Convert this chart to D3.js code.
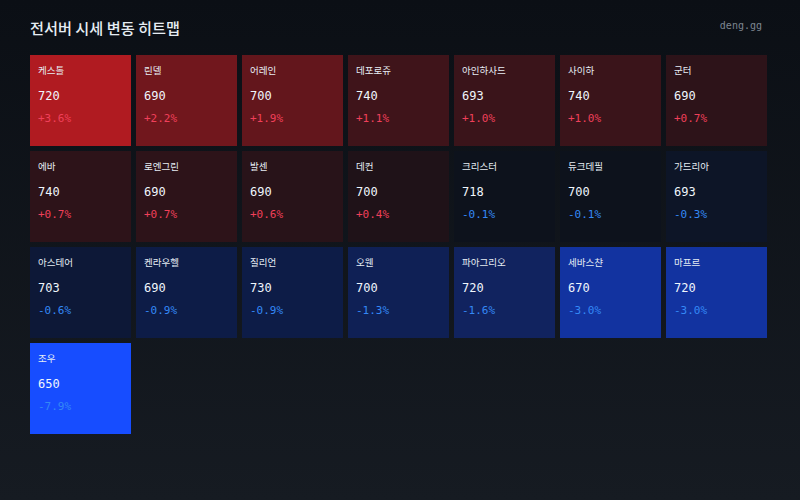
<!DOCTYPE html>
<html>
<head>
<meta charset="utf-8">
<script src="https://cdn.jsdelivr.net/npm/d3@7"></script>
<style>
  html, body { margin: 0; padding: 0; background: #0d1117; }
  svg { display: block; }
</style>
</head>
<body>
<div id="chart"></div>
<script>
const names = ["케스톨", "린델", "어레인", "데포로쥬", "아인하사드", "사이하", "군터",
  "에바", "로엔그린", "발센", "데컨", "크리스터", "듀크데필", "가드리아",
  "아스테어", "켄라우헬", "질리언", "오웬", "파아그리오", "세바스챤", "마프르",
  "조우"];
const prices = [720, 690, 700, 740, 693, 740, 690,
  740, 690, 690, 700, 718, 700, 693,
  703, 690, 730, 700, 720, 670, 720,
  650];
const changes = [3.6, 2.2, 1.9, 1.1, 1.0, 1.0, 0.7,
  0.7, 0.7, 0.6, 0.4, -0.1, -0.1, -0.3,
  -0.6, -0.9, -0.9, -1.3, -1.6, -3.0, -3.0,
  -7.9];

const width = 800;
const height = 500;
const cols = 7;
const rows = 4;
const mono = "'DejaVu Sans Mono', monospace";
const kr = "'Noto Sans CJK KR', sans-serif";

const svg = d3.select("#chart").append("svg")
  .attr("width", width)
  .attr("height", height);

const grad = svg.append("defs").append("linearGradient")
  .attr("id", "bg")
  .attr("x1", 0).attr("y1", 0).attr("x2", 0).attr("y2", 1);
grad.append("stop").attr("offset", "0%").attr("stop-color", "#0b0f15");
grad.append("stop").attr("offset", "100%").attr("stop-color", "#161b22");

svg.append("rect")
  .attr("width", width)
  .attr("height", height)
  .attr("fill", "url(#bg)");

svg.append("text")
  .attr("x", 30)
  .attr("y", 34)
  .attr("fill", "#e6edf3")
  .style("font-family", kr)
  .style("font-size", "15.2px")
  .style("font-weight", 500)
  .text("전서버 시세 변동 히트맵");

svg.append("text")
  .attr("x", 762)
  .attr("y", 29)
  .attr("text-anchor", "end")
  .attr("fill", "#7d8590")
  .style("font-family", mono)
  .style("font-size", "10px")
  .text("deng.gg");

const xScale = d3.scaleBand()
  .domain(d3.range(cols))
  .range([30, 767])
  .paddingInner(5 / 106);

const yScale = d3.scaleBand()
  .domain(d3.range(rows))
  .range([55, 434])
  .paddingInner(5 / 96);

// diverging colour scale, blue side is steeper near zero
const color = d3.scaleLinear()
  .domain([-7.9, -3, -1.6, -0.9, 0, 3.6])
  .range(["#174dff", "#1233a0", "#11235f", "#0d1c47", "#0d1117", "#b01b21"])
  .interpolate(d3.interpolateRgb);

const cells = svg.append("g")
  .selectAll("g")
  .data(names)
  .enter()
  .append("g")
  .attr("transform", (d, i) => `translate(${xScale(i % cols)},${yScale(Math.floor(i / cols))})`);

cells.append("rect")
  .attr("width", xScale.bandwidth())
  .attr("height", yScale.bandwidth())
  .attr("fill", (d, i) => color(changes[i]));

cells.append("text")
  .attr("x", 8)
  .attr("y", 18.5)
  .attr("fill", "#e6edf3")
  .style("font-family", kr)
  .style("font-size", "9.5px")
  .style("font-weight", 400)
  .text(d => d);

cells.append("text")
  .attr("x", 8)
  .attr("y", 45)
  .attr("fill", "#f0f6fc")
  .style("font-family", mono)
  .style("font-size", "12px")
  .text((d, i) => prices[i]);

cells.append("text")
  .attr("x", 8)
  .attr("y", 67)
  .attr("fill", (d, i) => changes[i] > 0 ? "#f0405a" : "#3488f5")
  .style("font-family", mono)
  .style("font-size", "11px")
  .text((d, i) => (changes[i] > 0 ? "+" : "") + changes[i].toFixed(1) + "%");
</script>
</body>
</html>
